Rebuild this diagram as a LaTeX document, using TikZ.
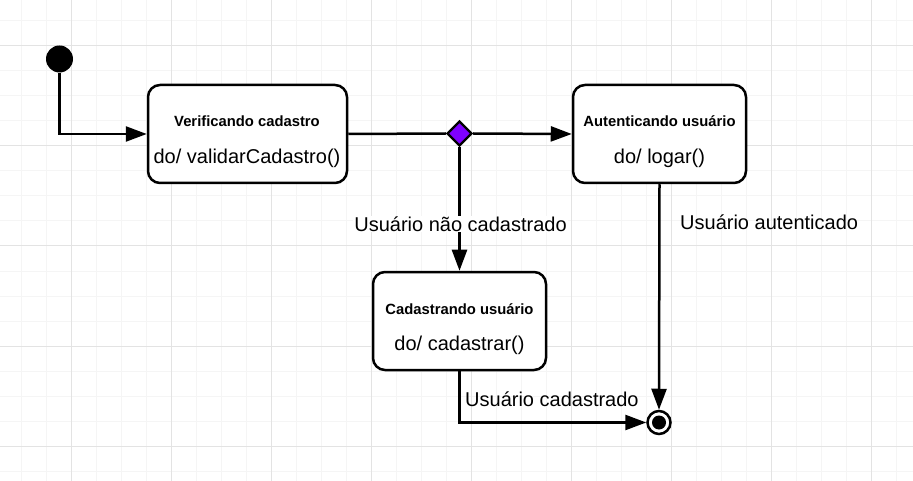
\documentclass[tikz,border=0pt]{standalone}
\usepackage{fontspec}
\setmainfont{Liberation Sans}
\usetikzlibrary{arrows.meta,shapes.geometric,calc}
\definecolor{gridminor}{HTML}{F5F5F5}
\definecolor{gridmajor}{HTML}{E3E3E3}
\definecolor{decpurple}{HTML}{7F00FF}
\tikzset{
  statebox/.style={draw=black, line width=2.5pt, rounded corners=12pt, fill=white,
    minimum width=198pt, minimum height=98pt, inner sep=0pt},
  titletext/.style={font=\fontsize{14.8}{17}\selectfont\bfseries, inner sep=0pt},
  bodytext/.style={font=\fontsize{20}{24}\selectfont, inner sep=0pt},
  lbl/.style={font=\fontsize{20}{24}\selectfont, inner sep=1pt},
  conn/.style={draw=black, line width=2.5pt},
  arr/.style={conn, -{Triangle[length=21pt,width=15pt]}},
}
\begin{document}
\begin{tikzpicture}[x=1pt,y=-1pt]
\useasboundingbox (0,0) rectangle (913,481);
\fill[white] (0,0) rectangle (913,481);
% grid
\foreach \i in {21,46,...,913} {\draw[gridminor, line width=1pt] (\i,0) -- (\i,481);}
\foreach \j in {21,46,...,481} {\draw[gridminor, line width=1pt] (0,\j) -- (913,\j);}
\foreach \i in {71,171,...,913} {\draw[gridmajor, line width=1pt] (\i,0) -- (\i,481);}
\foreach \j in {46,146,...,481} {\draw[gridmajor, line width=1pt] (0,\j) -- (913,\j);}

% initial state
\node[circle, fill=black, minimum size=27pt, inner sep=0pt] (ini) at (59.5,59) {};

% states
\node[statebox, minimum width=199pt] (ver) at (247.5,134) {};
\node[titletext] (vert) at (247,121) {Verificando cadastro};
\node[bodytext] (verb) at (247,158) {do/ validarCadastro()};

\node[statebox, minimum width=173pt] (aut) at (659.5,134) {};
\node[titletext] (autt) at (659.5,121) {Autenticando usuário};
\node[bodytext] (autb) at (659.5,158) {do/ logar()};

\node[statebox, minimum width=173pt] (cad) at (459.5,321) {};
\node[titletext] (cadt) at (459.5,309) {Cadastrando usuário};
\node[bodytext] (cadb) at (459.5,345) {do/ cadastrar()};

% decision
\node[diamond, draw=black, line width=2.2pt, fill=decpurple, minimum size=25pt, inner sep=0pt, aspect=1] (dec) at (459.5,133.5) {};

% final state
\node[circle, draw=black, line width=2.5pt, fill=white, minimum size=23pt, inner sep=0pt] (fin) at (659,422.5) {};
\node[circle, fill=black, minimum size=14pt, inner sep=0pt] (fincore) at (fin.center) {};

% connectors
\draw[arr] (ini.south) |- (ver.west);
\draw[conn] (ver.east) -- (dec.west);
\draw[arr] (dec.east) -- (aut.west);
\draw[arr] (dec.south) -- (cad.north);
\node[lbl, fill=white] (lnc) at (460.5,224) {Usuário não cadastrado};
\draw[arr] (aut.south) -- (fin.north);
\draw[arr] (cad.south) |- (fin.west);

% labels
\node[lbl, anchor=west] (lau) at (679,222) {Usuário autenticado};
\node[lbl, anchor=west] (lcad) at (464,399) {Usuário cadastrado};
\end{tikzpicture}
\end{document}
